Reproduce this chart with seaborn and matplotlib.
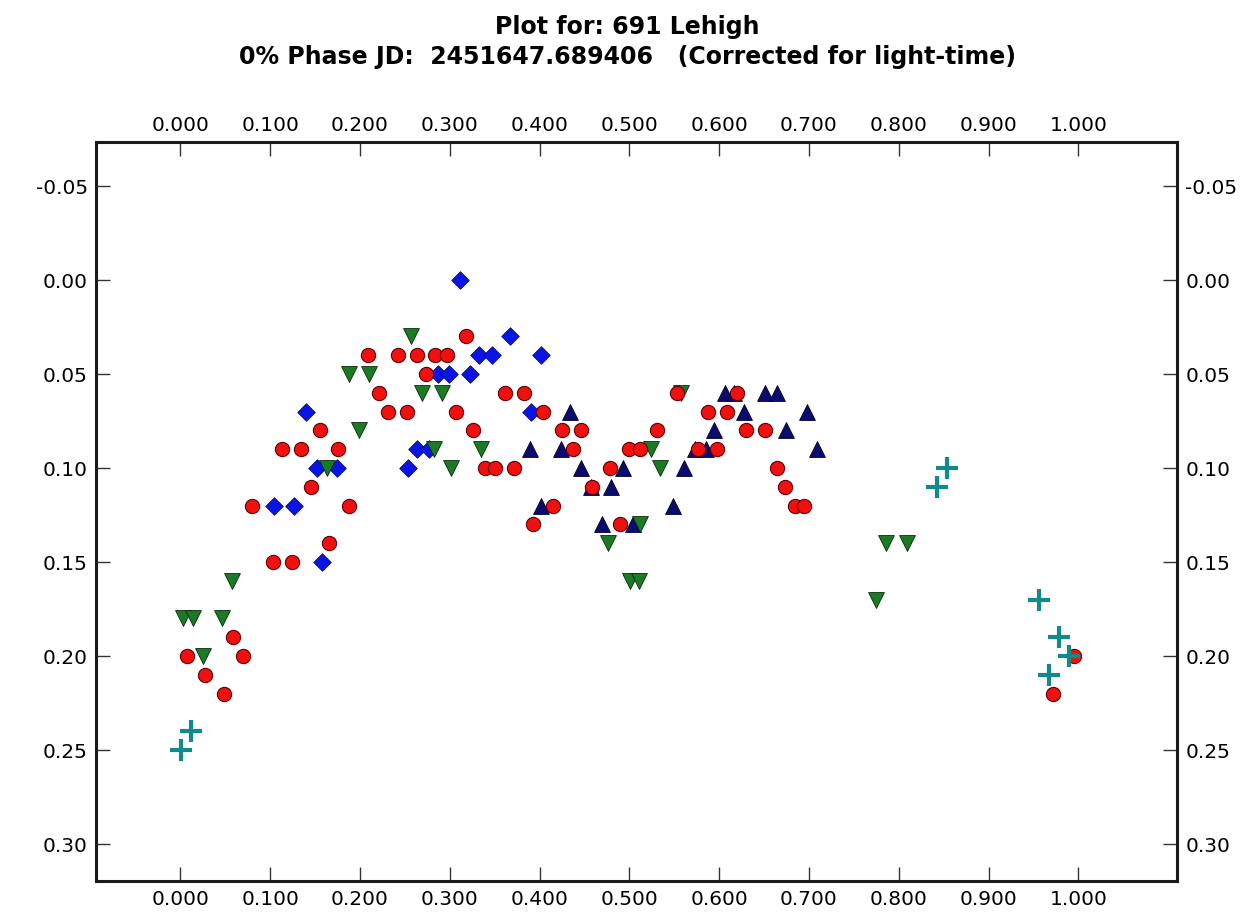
from matplotlib import pyplot as plt
from matplotlib.ticker import FormatStrFormatter
import seaborn as sns

# phase / magnitude values, one set per session
red_x = [0.007, 0.027, 0.049, 0.059, 0.070, 0.080, 0.103, 0.113, 0.124, 0.134,
         0.145, 0.155, 0.166, 0.176, 0.188, 0.209, 0.221, 0.231, 0.242, 0.252,
         0.264, 0.273, 0.284, 0.297, 0.307, 0.318, 0.326, 0.339, 0.350, 0.361,
         0.371, 0.383, 0.393, 0.404, 0.415, 0.425, 0.437, 0.446, 0.458, 0.479,
         0.490, 0.500, 0.512, 0.531, 0.553, 0.577, 0.588, 0.598, 0.609, 0.620,
         0.630, 0.651, 0.664, 0.673, 0.684, 0.695, 0.972, 0.995]
red_y = [0.20, 0.21, 0.22, 0.19, 0.20, 0.12, 0.15, 0.09, 0.15, 0.09,
         0.11, 0.08, 0.14, 0.09, 0.12, 0.04, 0.06, 0.07, 0.04, 0.07,
         0.04, 0.05, 0.04, 0.04, 0.07, 0.03, 0.08, 0.10, 0.10, 0.06,
         0.10, 0.06, 0.13, 0.07, 0.12, 0.08, 0.09, 0.08, 0.11, 0.10,
         0.13, 0.09, 0.09, 0.08, 0.06, 0.09, 0.07, 0.09, 0.07, 0.06,
         0.08, 0.08, 0.10, 0.11, 0.12, 0.12, 0.22, 0.20]

blue_x = [0.104, 0.126, 0.140, 0.152, 0.174, 0.158, 0.253, 0.264, 0.277, 0.287,
          0.299, 0.311, 0.323, 0.333, 0.347, 0.367, 0.390, 0.402]
blue_y = [0.12, 0.12, 0.07, 0.10, 0.10, 0.15, 0.10, 0.09, 0.09, 0.05,
          0.05, 0.00, 0.05, 0.04, 0.04, 0.03, 0.07, 0.04]

navy_x = [0.389, 0.402, 0.424, 0.434, 0.446, 0.457, 0.469, 0.480, 0.493, 0.504,
          0.549, 0.561, 0.573, 0.585, 0.594, 0.606, 0.617, 0.628, 0.651, 0.664,
          0.675, 0.698, 0.709]
navy_y = [0.09, 0.12, 0.09, 0.07, 0.10, 0.11, 0.13, 0.11, 0.10, 0.13,
          0.12, 0.10, 0.09, 0.09, 0.08, 0.06, 0.06, 0.07, 0.06, 0.06,
          0.08, 0.07, 0.09]

green_x = [0.003, 0.014, 0.025, 0.046, 0.058, 0.163, 0.188, 0.199, 0.210, 0.257,
           0.269, 0.282, 0.291, 0.301, 0.335, 0.476, 0.501, 0.511, 0.512, 0.524,
           0.534, 0.558, 0.775, 0.786, 0.809]
green_y = [0.18, 0.18, 0.20, 0.18, 0.16, 0.10, 0.05, 0.08, 0.05, 0.03,
           0.06, 0.09, 0.06, 0.10, 0.09, 0.14, 0.16, 0.16, 0.13, 0.09,
           0.10, 0.06, 0.17, 0.14, 0.14]

cross_x = [0.001, 0.012, 0.843, 0.854, 0.956, 0.967, 0.979, 0.990]
cross_y = [0.25, 0.24, 0.11, 0.10, 0.17, 0.21, 0.19, 0.20]

x_ticks = [0.0, 0.1, 0.2, 0.3, 0.4, 0.5, 0.6, 0.7, 0.8, 0.9, 1.0]
y_ticks = [-0.05, 0.00, 0.05, 0.10, 0.15, 0.20, 0.25, 0.30]

title_1 = "Plot for: 691 Lehigh"
title_2 = "0% Phase JD:  2451647.689406   (Corrected for light-time)"

sns.set_theme(style="white")
plt.rcParams['font.family'] = ['DejaVu Sans']
plt.rcParams['axes.unicode_minus'] = False

fig = plt.figure(figsize=(12.55, 9.2), dpi=100)
ax = fig.add_axes([0.0765, 0.0413, 0.8614, 0.8033])

series = [
    (blue_x, blue_y, 'D', '#0a14e6', '#0a0a80', 80, 0.6),
    (navy_x, navy_y, '^', '#0b0b6e', '#000030', 130, 0.6),
    (green_x, green_y, 'v', '#1b7a24', '#0a2a0a', 130, 0.6),
    (red_x, red_y, 'o', '#f01010', '#600000', 105, 0.8),
]
for xs, ys, m, c, ec, s, lw in series:
    sns.scatterplot(x=xs, y=ys, ax=ax, marker=m, color=c, edgecolor=ec,
                    s=s, linewidth=lw, zorder=3, legend=False)

sns.scatterplot(x=cross_x, y=cross_y, ax=ax, marker='+', color='#118a8a',
                s=260, linewidth=3, zorder=3, legend=False)

ax.set_xlim(-0.094, 1.110)
ax.set_ylim(0.3197, -0.0734)
ax.set_xticks(x_ticks)
ax.set_yticks(y_ticks)
ax.xaxis.set_major_formatter(FormatStrFormatter('%.3f'))
ax.yaxis.set_major_formatter(FormatStrFormatter('%.2f'))
ax.tick_params(axis='both', which='major', direction='in', length=10, width=1,
               color='#333333', labelsize=14.5, labelcolor='black', pad=6,
               top=True, labeltop=True, right=True, labelright=True,
               bottom=True, left=True)
for sp in ax.spines.values():
    sp.set_color('#1a1a1a')
    sp.set_linewidth(2.2)
ax.set_xlabel('')
ax.set_ylabel('')

fig.text(0.5, 1 - 27 / 920, title_1, ha='center', va='center', color='black',
         fontsize=17, fontweight='bold')
fig.text(0.5, 1 - 57 / 920, title_2, ha='center', va='center', color='black',
         fontsize=17, fontweight='bold')

fig.savefig("out.png", dpi=100)
